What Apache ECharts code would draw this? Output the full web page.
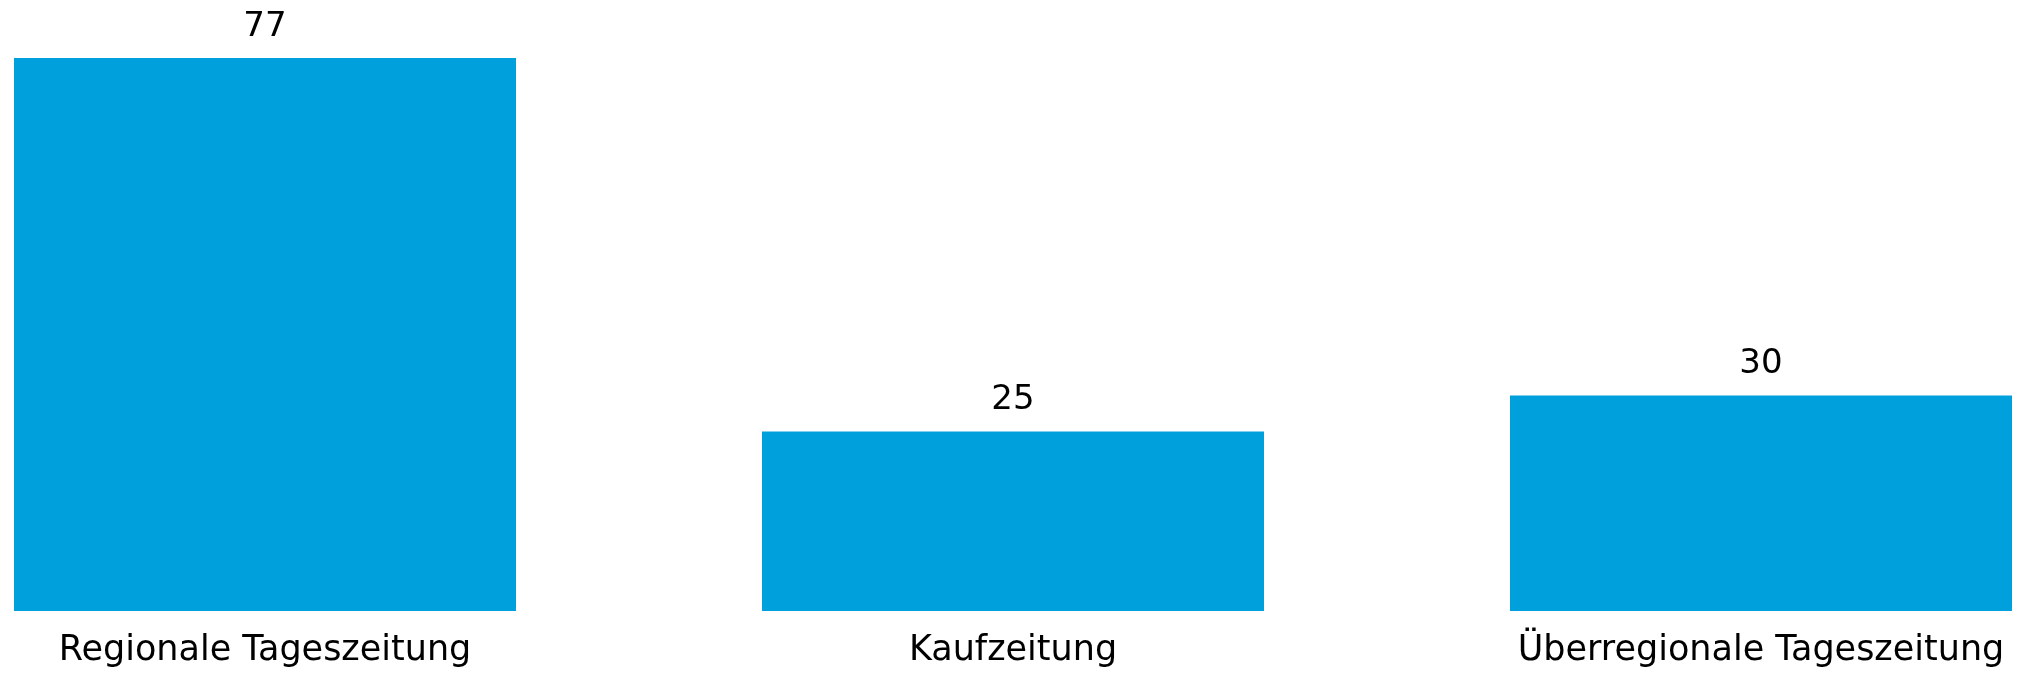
<!DOCTYPE html>
<html>
<head>
<meta charset="utf-8">
<script src="https://cdn.jsdelivr.net/npm/echarts@6/dist/echarts.min.js"></script>
<style>
  html, body { margin: 0; padding: 0; background: #fff; }
  #chart { width: 2043px; height: 682px; }
</style>
</head>
<body>
<div id="chart"></div>
<script>
// Zeitungsarten
const categories = ['Regionale Tageszeitung', 'Kaufzeitung', 'Überregionale Tageszeitung'];
const values = [77, 25, 30];

const chart = echarts.init(document.getElementById('chart'));
const option = {
  animation: false,
  grid: {
    left: 265,
    right: 282,
    top: 58,
    bottom: 71
  },
  xAxis: {
    type: 'category',
    data: categories,
    boundaryGap: false,
    axisLine: { show: false },
    axisTick: { show: false },
    axisLabel: {
      color: '#000',
      fontFamily: 'DejaVu Sans',
      fontSize: 35,
      margin: 22
    }
  },
  yAxis: {
    type: 'value',
    min: 0,
    max: 'dataMax',
    show: false,
    splitLine: { show: false }
  },
  series: [
    {
      type: 'bar',
      data: values,
      barWidth: 502,
      itemStyle: { color: '#00A0DC' },
      label: {
        show: true,
        position: 'top',
        distance: 14,
        color: '#000',
        fontFamily: 'DejaVu Sans',
        fontSize: 34
      }
    }
  ]
};
chart.setOption(option);
</script>
</body>
</html>
